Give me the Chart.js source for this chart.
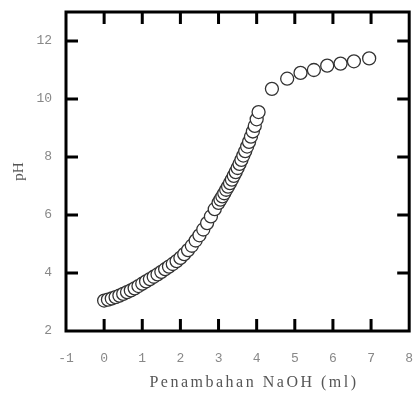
<!DOCTYPE html>
<html>
<head>
<meta charset="utf-8">
<script src="https://cdn.jsdelivr.net/npm/chart.js@4.4.1/dist/chart.umd.min.js"></script>
<style>
  body { margin: 0; background: #fff; }
  #wrap { width: 417px; height: 396px; }
</style>
</head>
<body>
<div id="wrap"><canvas id="phChart"></canvas></div>
<script>
// volume NaOH added (ml) and measured pH
const volume = [
  0.0, 0.1, 0.2, 0.3, 0.4, 0.5, 0.6, 0.7, 0.8, 0.9,
  1.0, 1.1, 1.2, 1.3, 1.4, 1.5, 1.6, 1.7, 1.8, 1.9,
  2.0, 2.1, 2.2, 2.3, 2.4, 2.5, 2.6, 2.7, 2.8, 2.9,
  3.0, 3.05, 3.1, 3.15, 3.2, 3.25, 3.3, 3.35, 3.4, 3.45,
  3.5, 3.55, 3.6, 3.65, 3.7, 3.75, 3.8, 3.85, 3.9, 3.95,
  4.0, 4.05,
  4.4, 4.8, 5.15, 5.5, 5.85, 6.2, 6.55, 6.95
];
const pH = [
  3.05, 3.08, 3.12, 3.17, 3.22, 3.28, 3.34, 3.40, 3.47, 3.55,
  3.63, 3.71, 3.79, 3.87, 3.95, 4.04, 4.13, 4.22, 4.31, 4.41,
  4.52, 4.65, 4.79, 4.94, 5.12, 5.3, 5.5, 5.72, 5.95, 6.2,
  6.42, 6.53, 6.64, 6.75, 6.87, 6.98, 7.1, 7.22, 7.35, 7.48,
  7.62, 7.76, 7.9, 8.05, 8.2, 8.36, 8.52, 8.7, 8.88, 9.07,
  9.3, 9.55,
  10.35, 10.7, 10.9, 11.0, 11.15, 11.22, 11.3, 11.4
];
const xTicks = [0, 1, 2, 3, 4, 5, 6, 7];
const yTicks = [4, 6, 8, 10, 12];
const xTitle = 'Penambahan NaOH (ml)';
const yTitle = 'pH';

const points = volume.map((v, i) => ({ x: v, y: pH[i] }));

// frame with inward ticks on all four sides, plus x title
const framePlugin = {
  id: 'frame',
  afterDraw(chart) {
    const ctx = chart.ctx;
    const a = chart.chartArea;
    const xs = chart.scales.x, ys = chart.scales.y;
    ctx.save();
    ctx.strokeStyle = '#000';
    ctx.lineWidth = 3;
    ctx.strokeRect(a.left, a.top, a.right - a.left, a.bottom - a.top);
    const len = 12;
    ctx.beginPath();
    xTicks.forEach(t => {
      const px = xs.getPixelForValue(t);
      ctx.moveTo(px, a.bottom); ctx.lineTo(px, a.bottom - len);
      ctx.moveTo(px, a.top); ctx.lineTo(px, a.top + len);
    });
    yTicks.forEach(t => {
      const py = ys.getPixelForValue(t);
      ctx.moveTo(a.left, py); ctx.lineTo(a.left + len, py);
      ctx.moveTo(a.right, py); ctx.lineTo(a.right - len, py);
    });
    ctx.stroke();
    ctx.fillStyle = '#555';
    ctx.font = '16px "Liberation Serif"';
    ctx.letterSpacing = '2.5px';
    ctx.textAlign = 'center';
    ctx.textBaseline = 'middle';
    ctx.fillText(xTitle, 254, 383);
    ctx.restore();
  }
};

new Chart(document.getElementById('phChart'), {
  type: 'scatter',
  data: {
    datasets: [{
      data: points,
      pointRadius: 6.5,
      pointHoverRadius: 6.5,
      pointBorderWidth: 1.3,
      pointBorderColor: '#333',
      pointBackgroundColor: '#fff'
    }]
  },
  options: {
    responsive: true,
    maintainAspectRatio: false,
    animation: false,
    layout: { padding: { left: 0, right: 5, top: 12, bottom: 0 } },
    plugins: { legend: { display: false }, tooltip: { enabled: false } },
    scales: {
      x: {
        type: 'linear',
        min: -1, max: 8,
        grid: { display: false, drawTicks: false },
        border: { display: false },
        ticks: {
          stepSize: 1,
          padding: 20,
          color: '#888',
          font: { family: 'Liberation Mono', size: 13 }
        },
        afterFit(scale) {
          scale.height = 65;
          scale.paddingLeft = 0;
          scale.paddingRight = 0;
        }
      },
      y: {
        min: 2, max: 13,
        grid: { display: false, drawTicks: false },
        border: { display: false },
        ticks: {
          stepSize: 2,
          includeBounds: false,
          padding: 14,
          color: '#888',
          font: { family: 'Liberation Mono', size: 13 }
        },
        title: {
          display: true,
          text: yTitle,
          color: '#555',
          padding: { top: 10, bottom: 0 },
          font: { family: 'Liberation Serif', size: 15 }
        },
        afterFit(scale) {
          scale.width = 66;
          scale.paddingTop = 0;
          scale.paddingBottom = 0;
        }
      }
    }
  },
  plugins: [framePlugin]
});
</script>
</body>
</html>
